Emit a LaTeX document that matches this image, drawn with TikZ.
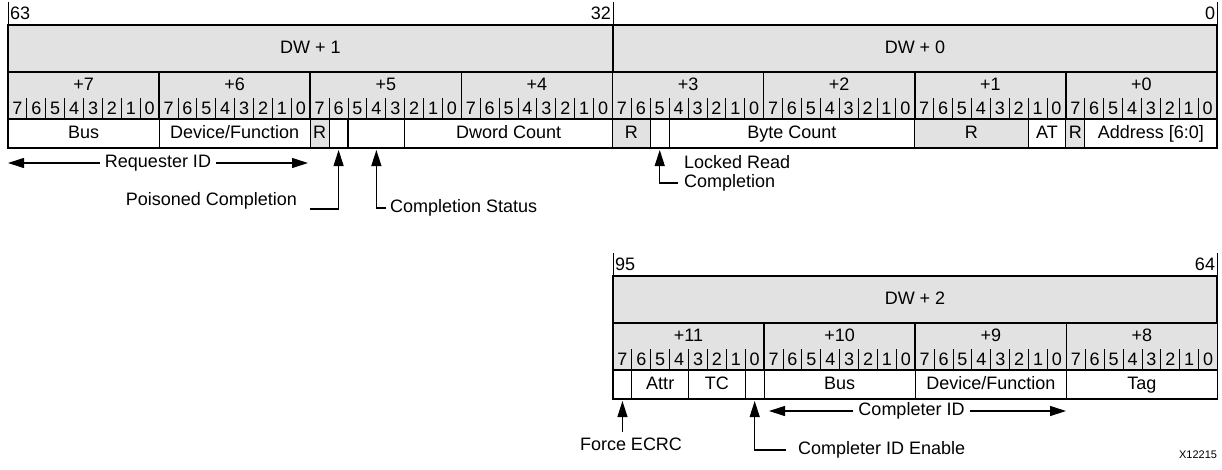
\documentclass[tikz,border=0pt]{standalone}
\usepackage{fontspec}
\setmainfont{Liberation Sans}
\usetikzlibrary{arrows.meta,calc}
\definecolor{hdr}{RGB}{226,226,226}
\newcommand\bitw{18.890625}
\newcommand\bytehdr[4]{%
  \node[hdrbox, minimum width=151.125pt] (#1) at (#2,#3) {};
  \node[lbl] (#1-l) at ($(#1.north)+(0,12)$) {#4};
  \foreach \k in {0,...,7}{%
    \pgfmathtruncatemacro\dg{7-\k}%
    \pgfmathsetmacro\dx{#2+(\k+0.5)*\bitw}%
    \node[lbl] (#1-d\dg) at (\dx,#3+36) {\dg};
  }%
  \foreach \k in {1,...,7}{%
    \pgfmathsetmacro\dx{#2+\k*\bitw}%
    \draw[bitsep] (\dx,#3+26) -- (\dx,#3+47);
  }%
}
\newcommand\fieldbox[7]{%
  \pgfmathsetmacro\fw{(#6-#5)*\bitw}%
  \pgfmathsetmacro\fx{#3+#5*\bitw}%
  \node[#2, minimum width=\fw pt] (#1) at (\fx,#4) {#7};%
}
\begin{document}
\begin{tikzpicture}[x=1pt,y=-1pt,
  font=\fontsize{18}{20}\selectfont,
  hdrbox/.style={draw, line width=1.6pt, fill=hdr, inner sep=0pt, outer sep=0pt, anchor=north west, minimum height=47pt, text height=13pt, text depth=4pt},
  fldbox/.style={draw, line width=1.1pt, fill=white, inner sep=0pt, outer sep=0pt, anchor=north west, minimum height=29pt, text height=13pt, text depth=4pt},
  rbox/.style={fldbox, fill=hdr},
  lbl/.style={inner sep=0pt, outer sep=0pt},
  bitsep/.style={line width=0.9pt},
  bndtick/.style={line width=1pt},
  arr/.style={line width=1.1pt, -{Triangle[length=16pt,width=10pt]}},
]
\useasboundingbox (0,0) rectangle (1222,469);

% ---------- top fields ----------
\fieldbox{bus1}{fldbox}{8}{119}{0}{8}{Bus}
\fieldbox{df1}{fldbox}{8}{119}{8}{16}{Device/Function}
\fieldbox{r1}{rbox}{8}{119}{16}{17}{R}
\fieldbox{pc}{fldbox}{8}{119}{17}{18}{}
\fieldbox{cs}{fldbox}{8}{119}{18}{21}{}
\fieldbox{dc}{fldbox}{8}{119}{21}{32}{Dword Count}
\fieldbox{r2}{rbox}{8}{119}{32}{34}{R}
\fieldbox{lr}{fldbox}{8}{119}{34}{35}{}
\fieldbox{bc}{fldbox}{8}{119}{35}{48}{Byte Count}
\fieldbox{r3}{rbox}{8}{119}{48}{54}{R}
\fieldbox{atf}{fldbox}{8}{119}{54}{56}{AT}
\fieldbox{r4}{rbox}{8}{119}{56}{57}{R}
\fieldbox{addr}{fldbox}{8}{119}{57}{64}{Address [6:0]}

% ---------- top byte headers ----------
\foreach \i/\lab in {0/7,1/6,2/5,3/4,4/3,5/2,6/1,7/0}{%
  \pgfmathsetmacro\xa{8+\i*151.125}%
  \bytehdr{tb\lab}{\xa}{72}{+\lab}
}

% ---------- top DW boxes ----------
\node[hdrbox, minimum width=605pt] (dw1) at (8,25) {DW + 1};
\node[hdrbox, minimum width=604pt] (dw0) at (613,25) {DW + 0};

\draw[bndtick] (dw1.north west) -- ++(0,-23);
\draw[bndtick] (dw1.north east) -- ++(0,-23);
\draw[bndtick] (dw0.north east) -- ++(0,-23);
\node[lbl, anchor=west] (n63) at (10,13) {63};
\node[lbl, anchor=east] (n32) at (611,13) {32};
\node[lbl, anchor=east] (n0) at (1215,13) {0};

% ---------- top annotations ----------
\node[lbl, inner xsep=5pt] (reqid) at (158,163) {Requester ID};
\coordinate (reqL) at (8,163);
\coordinate (reqR) at (308,163);
\draw[arr] (reqid.west) -- (reqL);
\draw[arr] (reqid.east) -- (reqR);

\node[lbl, anchor=east] (pcl) at (297,201) {Poisoned Completion};
\coordinate (pcc) at (310,209);
\draw[arr, shorten >=2pt] (pcc) -| (pc.south);

\node[lbl, anchor=west, inner xsep=4pt] (csl) at (386,208) {Completion Status};
\draw[arr, shorten >=2pt] (csl.west) -| (cs.south);

\node[lbl, anchor=west] (lrl1) at (684,162) {Locked Read};
\node[lbl, anchor=west, inner xsep=6pt] (lrl2) at (678,183) {Completion};
\draw[arr, shorten >=2pt] (lrl2.west) -| (lr.south);

% ---------- bottom fields ----------
\fieldbox{fe}{fldbox}{613}{370}{0}{1}{}
\fieldbox{attr}{fldbox}{613}{370}{1}{4}{Attr}
\fieldbox{tc}{fldbox}{613}{370}{4}{7}{TC}
\fieldbox{ce}{fldbox}{613}{370}{7}{8}{}
\fieldbox{bus2}{fldbox}{613}{370}{8}{16}{Bus}
\fieldbox{df2}{fldbox}{613}{370}{16}{24}{Device/Function}
\fieldbox{tag}{fldbox}{613}{370}{24}{32}{Tag}

\foreach \i/\lab in {0/11,1/10,2/9,3/8}{%
  \pgfmathsetmacro\xa{613+\i*151.125}%
  \bytehdr{bb\lab}{\xa}{323}{+\lab}
}

\node[hdrbox, minimum width=604pt] (dw2) at (613,276) {DW + 2};
\draw[bndtick] (dw2.north west) -- ++(0,-23);
\draw[bndtick] (dw2.north east) -- ++(0,-23);
\node[lbl, anchor=west] (n95) at (615,264) {95};
\node[lbl, anchor=east] (n64) at (1215,264) {64};

% ---------- bottom annotations ----------
\node[lbl, inner xsep=5pt] (cid) at (911.5,411) {Completer ID};
\coordinate (cidL) at (769,411);
\coordinate (cidR) at (1066,411);
\draw[arr] (cid.west) -- (cidL);
\draw[arr] (cid.east) -- (cidR);

\node[lbl, inner ysep=6pt] (fel) at (631,444) {Force ECRC};
\draw[arr, shorten >=2pt] (fe.south |- fel.north) -- (fe.south);

\node[lbl, anchor=west, inner xsep=12pt] (cel) at (786,450) {Completer ID Enable};
\draw[arr, shorten >=2pt] (cel.west) -| (ce.south);

\node[lbl, anchor=east, font=\fontsize{11}{12}\selectfont] (xid) at (1217,455) {X12215};
\end{tikzpicture}
\end{document}
